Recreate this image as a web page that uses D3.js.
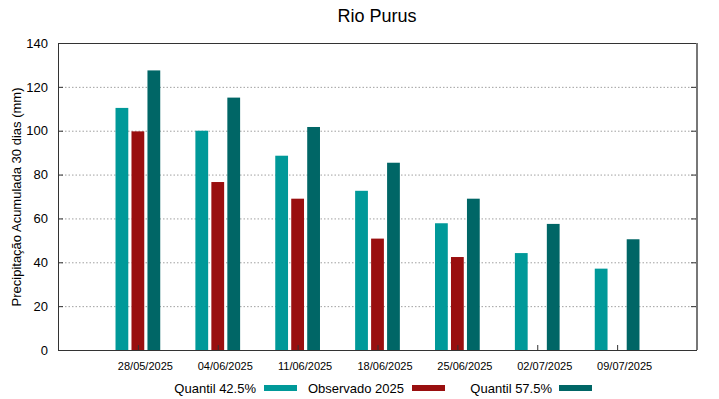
<!DOCTYPE html>
<html><head><meta charset="utf-8">
<script src="https://cdn.jsdelivr.net/npm/d3@7"></script>
<style>body{margin:0;background:#fff}svg{display:block;font-family:"Liberation Sans",Arial,sans-serif}</style>
</head><body><svg id="c" width="719" height="399"></svg>
<script>
const categories = ["28/05/2025","04/06/2025","11/06/2025","18/06/2025","25/06/2025","02/07/2025","09/07/2025"];
const quantil425 = [110.4, 100.0, 88.6, 72.6, 57.8, 44.2, 37.1];
const observado2025 = [99.7, 76.6, 69.0, 50.8, 42.4, null, null];
const quantil575 = [127.5, 115.1, 101.7, 85.4, 69.0, 57.5, 50.5];
const yTicks = [0,20,40,60,80,100,120,140];
const seriesNames = ["Quantil 42.5%","Observado 2025","Quantil 57.5%"];
const colors = ["#009999","#990f0f","#006666"];

const svg = d3.select("#c");
const L=58, R=697, T=43, B=350;
const x = d3.scaleLinear().domain([-1,7]).range([L,R]);
const y = d3.scaleLinear().domain([0,140]).range([B,T]);

// grid
svg.append("g").selectAll("line").data(yTicks.filter(d=>d>0&&d<140)).join("line")
  .attr("x1",L).attr("x2",R).attr("y1",d=>y(d)+0.5).attr("y2",d=>y(d)+0.5)
  .attr("stroke","#a0a0a0").attr("stroke-width",1).attr("stroke-dasharray","1.5,2");

// bars
const series=[quantil425,observado2025,quantil575];
const offs=[-0.2,0,0.2], bw=0.16;
series.forEach((s,k)=>{
  svg.append("g").selectAll("rect").data(s.map((v,i)=>({v,i})).filter(d=>d.v!=null)).join("rect")
    .attr("x",d=>x(d.i+offs[k]-bw/2)).attr("width",x(bw)-x(0))
    .attr("y",d=>y(d.v)).attr("height",d=>B-y(d.v)).attr("fill",colors[k]);
});

// frame
svg.append("rect").attr("x",L+0.5).attr("y",T+0.5).attr("width",R-L-1).attr("height",B-T)
  .attr("fill","none").attr("stroke","#333").attr("stroke-width",1);
svg.append("line").attr("x1",R).attr("x2",R).attr("y1",T).attr("y2",B).attr("stroke","#777").attr("stroke-width",2);

// y axis
const ya = d3.axisLeft(y).tickValues(yTicks).tickSize(-5).tickPadding(10);
const gy = svg.append("g").attr("transform",`translate(${L},0)`).call(ya);
gy.select(".domain").remove();
gy.selectAll("text").attr("font-size",13).attr("fill","#000").attr("font-family","Liberation Sans, Arial, sans-serif");
gy.selectAll("line").attr("stroke","#333");
const yr = d3.axisRight(y).tickValues(yTicks.slice(1,-1)).tickSize(-5).tickFormat("");
const gyr = svg.append("g").attr("transform",`translate(${R-1},0)`).call(yr);
gyr.select(".domain").remove(); gyr.selectAll("line").attr("stroke","#333");

// x axis
const xa = d3.axisBottom(x).tickValues(d3.range(categories.length)).tickSize(-5).tickFormat(i=>categories[i]).tickPadding(12);
const gx = svg.append("g").attr("transform",`translate(0,${B})`).call(xa);
gx.select(".domain").remove();
gx.selectAll("line").attr("stroke","#333");
gx.selectAll("text").attr("font-size",11).attr("fill","#000").attr("dx",7).attr("font-family","Liberation Sans, Arial, sans-serif");

// title
svg.append("text").attr("x",377).attr("y",22).attr("text-anchor","middle").attr("font-size",18).text("Rio Purus");

// y label
svg.append("text").attr("transform","translate(21,197) rotate(-90)").attr("text-anchor","middle")
  .attr("font-size",13).text("Precipitação Acumulada 30 dias (mm)");

// legend
const legX=[256,404,552], swX=[264,412,559];
seriesNames.forEach((n,k)=>{
  svg.append("text").attr("x",legX[k]).attr("y",393).attr("text-anchor","end").attr("font-size",13).text(n);
  svg.append("rect").attr("x",swX[k]).attr("y",385).attr("width",33).attr("height",6).attr("fill",colors[k]);
});
</script></body></html>
